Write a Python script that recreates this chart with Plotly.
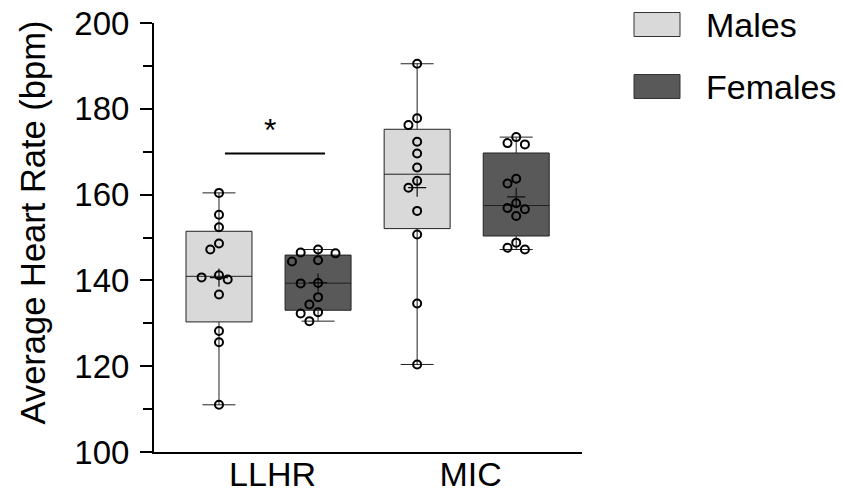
import numpy as np
import plotly.graph_objects as go

# ---------------- data ----------------
categories = ["LLHR", "MIC"]
groups = ["Males", "Females"]
llhr_males = [160.4, 155.3, 152.4, 148.6, 147.2, 141.2, 140.7, 140.2, 136.7, 128.2, 125.6, 111.0]
llhr_females = [147.2, 146.5, 146.3, 144.7, 144.4, 139.4, 139.3, 136.1, 134.4, 132.6, 132.3, 130.5]
mic_males = [190.5, 177.8, 176.2, 172.3, 169.6, 166.3, 163.2, 161.6, 156.2, 150.7, 134.6, 120.4]
mic_females = [173.4, 172.0, 171.7, 163.7, 162.6, 158.0, 156.9, 156.6, 155.0, 148.8, 147.6, 147.2]
y_tick_vals = [100, 120, 140, 160, 180, 200]
y_title = "Average Heart Rate (bpm)"
sig_label = "*"

series = {
    ("LLHR", "Males"): llhr_males,
    ("LLHR", "Females"): llhr_females,
    ("MIC", "Males"): mic_males,
    ("MIC", "Females"): mic_females,
}

# ---------------- layout constants ----------------
W, H = 842, 494
ML, MR, MT, MB = 154, 260, 23, 42
PW, PH = W - ML - MR, H - MT - MB
XR = [-0.578, 1.582]
YR = [100, 200]
XPX = PW / (XR[1] - XR[0])
YPX = PH / (YR[1] - YR[0])

colors = {"Males": "#d9d9d9", "Females": "#595959"}
offsets = {"Males": -0.25, "Females": 0.25}
BOX_W = 0.333
FONT = "Arial, Liberation Sans, sans-serif"


def swarm(vals, step_px=8.7, min_dist=9.6):
    placed = []
    offs = [0.0] * len(vals)
    order = sorted(range(len(vals)), key=lambda i: -vals[i])
    cands = [0]
    for j in range(1, 12):
        cands += [-j, j]
    for i in order:
        yp = vals[i] * YPX
        xp = 0.0
        for c in cands:
            xp = c * step_px
            if all(np.hypot(xp - a, yp - b) >= min_dist for a, b in placed):
                break
        placed.append((xp, yp))
        offs[i] = xp / XPX
    return offs


fig = go.Figure()

for ci, cat in enumerate(categories):
    for g in groups:
        vals = np.array(series[(cat, g)])
        pos = ci + offsets[g]
        q1, med, q3 = np.percentile(vals, [25, 50, 75], method="weibull")
        fig.add_trace(go.Box(
            x=[pos], q1=[q1], median=[med], q3=[q3],
            lowerfence=[vals.min()], upperfence=[vals.max()],
            width=BOX_W, whiskerwidth=0.5,
            fillcolor=colors[g], line=dict(color="#222222", width=1),
            boxpoints=False, showlegend=False, hoverinfo="skip",
        ))
        # mean cross
        fig.add_trace(go.Scatter(
            x=[pos], y=[vals.mean()], mode="markers",
            marker=dict(symbol="cross-thin-open", size=13, color="#111111",
                        line=dict(color="#111111", width=1.2)),
            showlegend=False, hoverinfo="skip",
        ))
        # individual points
        offs = swarm(list(vals))
        fig.add_trace(go.Scatter(
            x=[pos + o for o in offs], y=list(vals), mode="markers",
            marker=dict(symbol="circle-open", size=8,
                        line=dict(color="black", width=2), color="black"),
            showlegend=False, hoverinfo="skip",
        ))

# significance bar
fig.add_shape(type="line", xref="x", yref="y", x0=-0.22, x1=0.285, y0=169.6, y1=169.6,
              line=dict(color="black", width=2))
fig.add_annotation(xref="x", yref="y", x=0.008, y=175.1, text=sig_label, showarrow=False,
                   font=dict(family=FONT, size=32, color="black"),
                   xanchor="center", yanchor="middle")

# y-axis title
fig.add_annotation(xref="paper", yref="paper", x=(33 - ML) / PW, y=(H - MB - 222.5) / PH,
                   text=y_title, textangle=-90, showarrow=False,
                   xanchor="center", yanchor="middle",
                   font=dict(family=FONT, size=34.5, color="black"))

# legend drawn manually
leg = [("Males", 12.5, 36.5), ("Females", 74.5, 98.5)]
for name, y0p, y1p in leg:
    fig.add_shape(type="rect", xref="paper", yref="paper",
                  x0=(634 - ML) / PW, x1=(680 - ML) / PW,
                  y0=(H - MB - y1p) / PH, y1=(H - MB - y0p) / PH,
                  fillcolor=colors[name], line=dict(color="#333333", width=1))
    fig.add_annotation(xref="paper", yref="paper", x=(704 - ML) / PW,
                       y=(H - MB - (y0p + y1p) / 2) / PH, text=name,
                       xanchor="left", yanchor="middle", showarrow=False,
                       font=dict(family=FONT, size=34, color="black"))

fig.update_layout(
    width=W, height=H,
    margin=dict(l=ML, r=MR, t=MT, b=MB, pad=0, autoexpand=False),
    plot_bgcolor="white", paper_bgcolor="white",
    font=dict(family=FONT, size=33, color="black"),
    xaxis=dict(range=XR, tickvals=[0, 1], ticktext=categories, showline=True,
               linecolor="black", linewidth=2, ticks="", showgrid=False,
               zeroline=False, tickfont=dict(size=34), automargin=False,
               ticklabelstandoff=-9, ticklabelshift=4),
    yaxis=dict(range=YR, tickvals=y_tick_vals, showline=True, linecolor="black",
               linewidth=2, ticks="outside", ticklen=12, tickwidth=2, tickcolor="black",
               showgrid=False, zeroline=False, ticklabelstandoff=4, automargin=False,
               tickfont=dict(size=33),
               minor=dict(dtick=10, ticks="outside", ticklen=9, tickwidth=2, tickcolor="black",
                          showgrid=False)),
    showlegend=False,
)

fig.write_html("out.html", config={"displayModeBar": False},
               post_script="document.body.style.margin='0';document.body.style.padding='0';")
